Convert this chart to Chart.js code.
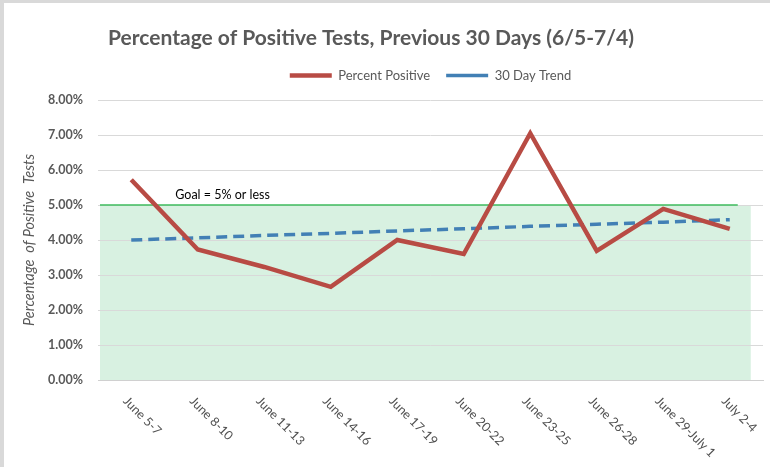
<!DOCTYPE html>
<html>
<head>
<meta charset="utf-8">
<script src="https://cdn.jsdelivr.net/npm/chart.js@4/dist/chart.umd.min.js"></script>
<style>
    html, body { margin: 0; padding: 0; background: #d9d9d9; }
    #wrap { position: absolute; left: 4px; top: 3px; width: 766px; height: 464px; background: #fff; }
</style>
</head>
<body>
<div id="wrap"><canvas id="posChart"></canvas></div>
<script>
const periods = ['June 5-7', 'June 8-10', 'June 11-13', 'June 14-16', 'June 17-19',
    'June 20-22', 'June 23-25', 'June 26-28', 'June 29-July 1', 'July 2-4'];
const percentPositive = [5.72, 3.73, 3.23, 2.66, 4.00, 3.60, 7.05, 3.69, 4.89, 4.32];
const trend30Day = [4.00, 4.06, 4.13, 4.19, 4.26, 4.32, 4.39, 4.45, 4.51, 4.58];
const yTicks = [0, 1, 2, 3, 4, 5, 6, 7, 8];
const GOAL = 5;
const goalLabel = 'Goal = 5% or less';
const chartTitle = 'Percentage of Positive Tests, Previous 30 Days (6/5-7/4)';

const FONT = 'Lato, "Open Sans", sans-serif';
const GREY = '#595959';

// green "goal" zone and line, under the data
const goalZone = {
    id: 'goalZone',
    beforeDraw(chart) {
        const { ctx, chartArea, scales: { x, y } } = chart;
        const right = x.getPixelForTick(periods.length - 1) + 21;
        ctx.save();
        ctx.fillStyle = '#d8f1e1';
        ctx.fillRect(chartArea.left + 2, y.getPixelForValue(GOAL), right - chartArea.left - 2,
            y.getPixelForValue(0) - y.getPixelForValue(GOAL));
        ctx.restore();
    },
    beforeDatasetsDraw(chart) {
        const { ctx, chartArea, scales: { x, y } } = chart;
        const yg = y.getPixelForValue(GOAL);
        ctx.save();
        ctx.strokeStyle = '#3dbd5c';
        ctx.lineWidth = 1.5;
        ctx.beginPath();
        ctx.moveTo(chartArea.left + 2, yg);
        ctx.lineTo(x.getPixelForTick(periods.length - 1) + 8, yg);
        ctx.stroke();
        ctx.fillStyle = '#000';
        ctx.font = '12.5px ' + FONT;
        ctx.textBaseline = 'bottom';
        ctx.fillText(goalLabel, x.getPixelForTick(0) + 44, yg - 4);
        ctx.restore();
    }
};

// title and slanted category labels
const extraText = {
    id: 'extraText',
    afterDraw(chart) {
        const { ctx, chartArea, scales: { x } } = chart;
        ctx.save();
        ctx.fillStyle = GREY;
        ctx.font = 'bold 21px ' + FONT;
        ctx.textAlign = 'center';
        ctx.textBaseline = 'middle';
        ctx.fillText(chartTitle, 367, 35);

        ctx.fillStyle = '#505050';
        ctx.font = '12.5px ' + FONT;
        ctx.textAlign = 'left';
        periods.forEach((label, i) => {
            const px = x.getPixelForTick(i);
            ctx.save();
            ctx.translate(px - 6, chartArea.bottom + 19);
            ctx.rotate(Math.PI / 4);
            ctx.fillText(label, 0, 0);
            ctx.restore();
        });
        ctx.restore();
    }
};

new Chart(document.getElementById('posChart'), {
    type: 'line',
    data: {
        labels: periods,
        datasets: [{
            label: 'Percent Positive',
            data: percentPositive,
            borderColor: '#b84b44',
            backgroundColor: '#b84b44',
            borderWidth: 4.5,
            pointRadius: 0,
            tension: 0
        }, {
            label: '30 Day Trend',
            data: trend30Day,
            borderColor: '#4280b5',
            backgroundColor: '#4280b5',
            borderWidth: 3.5,
            borderDash: [11, 6],
            pointRadius: 0,
            tension: 0
        }]
    },
    options: {
        responsive: true,
        maintainAspectRatio: false,
        animation: false,
        layout: {
            padding: { top: 50, left: 0, right: 7, bottom: 79 }
        },
        plugins: {
            title: { display: false },
            // empty spacer between the legend and the plot
            subtitle: {
                display: true,
                text: '',
                weight: 500,
                padding: { top: 3, bottom: 0 },
                font: { size: 5, lineHeight: 1 }
            },
            tooltip: { enabled: false },
            legend: {
                position: 'top',
                fullSize: false,
                labels: {
                    usePointStyle: true,
                    pointStyle: 'line',
                    pointStyleWidth: 42,
                    padding: 16,
                    color: GREY,
                    font: { family: FONT, size: 13 }
                }
            }
        },
        scales: {
            x: {
                offset: true,
                grid: { display: false },
                border: { color: '#d0d0d0' },
                ticks: { display: false }
            },
            y: {
                min: 0,
                max: 8,
                afterBuildTicks(scale) {
                    scale.ticks = yTicks.map(v => ({ value: v }));
                },
                afterFit(scale) {
                    scale.width = 94;
                },
                grid: { color: '#d9d9d9', drawTicks: false },
                border: { display: false },
                ticks: {
                    padding: 15,
                    color: GREY,
                    font: { family: FONT, size: 12.5, weight: 'bold' },
                    callback: value => value.toFixed(2) + '%'
                },
                title: {
                    display: true,
                    text: 'Percentage  of Positive  Tests',
                    color: GREY,
                    padding: { top: 17, bottom: 0 },
                    font: { family: FONT, size: 14.5, style: 'italic' }
                }
            }
        }
    },
    plugins: [goalZone, extraText]
});
</script>
</body>
</html>
